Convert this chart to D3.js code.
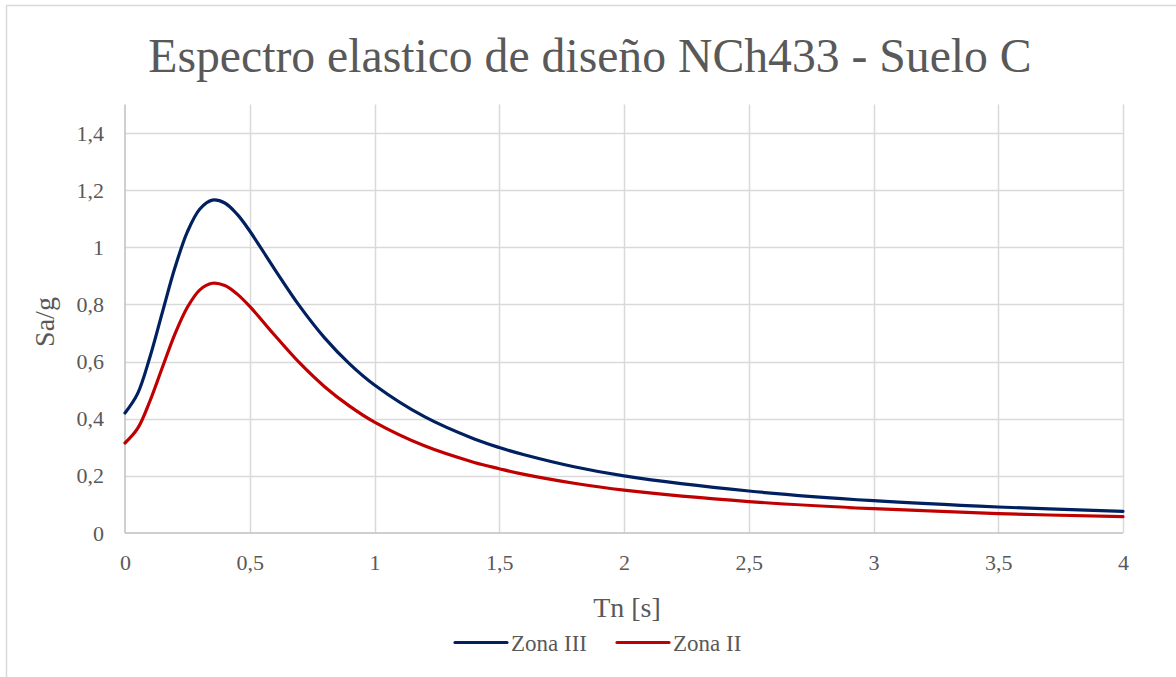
<!DOCTYPE html>
<html><head><meta charset="utf-8">
<script src="https://cdn.jsdelivr.net/npm/d3@7"></script>
<style>body{margin:0;background:#fff}svg{display:block}</style>
</head><body>
<svg id="c" width="1176" height="677" font-family="Liberation Serif"></svg>
<script>
const periods = [0,0.05,0.1,0.15,0.2,0.25,0.3,0.35,0.4,0.45,0.5,0.6,0.7,0.8,0.9,1.0,1.2,1.4,1.5,1.6,1.8,2.0,2.5,3.0,3.5,4.0];
const zonaIII = [0.420,0.487,0.616,0.773,0.928,1.054,1.134,1.165,1.155,1.115,1.057,0.923,0.794,0.683,0.592,0.518,0.407,0.329,0.299,0.274,0.232,0.200,0.147,0.113,0.091,0.076];
const zonaII  = [0.315,0.365,0.462,0.580,0.696,0.790,0.851,0.874,0.866,0.836,0.793,0.692,0.595,0.512,0.444,0.388,0.305,0.247,0.225,0.205,0.174,0.150,0.110,0.085,0.068,0.057];
const xTicks = [0,0.5,1,1.5,2,2.5,3,3.5,4];
const yTicks = [0,0.2,0.4,0.6,0.8,1,1.2,1.4];
const seriesNames = ["Zona III","Zona II"];
const seriesColors = ["#002060","#C00000"];
const title = "Espectro elastico de diseño NCh433 - Suelo C";

const FONT = "Liberation Serif";
const TXT = "#595959";
const svg = d3.select("#c");
const fmt = v => String(v).replace(".", ",");
svg.append("rect").attr("x",6.5).attr("y",5.5).attr("width",1200).attr("height",700)
  .attr("fill","#fff").attr("stroke","#d9d9d9").attr("stroke-width",1.5);

const x = d3.scaleLinear().domain([0,4]).range([125,1123]);
const y = d3.scaleLinear().domain([0,1.5]).range([533,104.4]);

svg.append("g").selectAll("line").data(yTicks.slice(1)).join("line")
  .attr("x1",x(0)).attr("x2",x(4)).attr("y1",d=>Math.round(y(d))+0.5).attr("y2",d=>Math.round(y(d))+0.5)
  .attr("stroke","#d9d9d9").attr("stroke-width",1.5);
svg.append("g").selectAll("line").data(xTicks.slice(1)).join("line")
  .attr("x1",d=>Math.round(x(d))+0.5).attr("x2",d=>Math.round(x(d))+0.5).attr("y1",y(0)).attr("y2",y(1.5))
  .attr("stroke","#d9d9d9").attr("stroke-width",1.5);
svg.append("line").attr("x1",x(0)).attr("x2",x(4)).attr("y1",y(0)).attr("y2",y(0)).attr("stroke","#bfbfbf").attr("stroke-width",1.5);
svg.append("line").attr("x1",x(0)).attr("x2",x(0)).attr("y1",y(0)).attr("y2",y(1.5)).attr("stroke","#bfbfbf").attr("stroke-width",1.5);

const xAxis = svg.append("g").attr("transform",`translate(0,${y(0)})`)
  .call(d3.axisBottom(x).tickValues(xTicks).tickFormat(fmt).tickSize(0).tickPadding(21));
const yAxis = svg.append("g").attr("transform",`translate(${x(0)},0)`)
  .call(d3.axisLeft(y).tickValues(yTicks).tickFormat(fmt).tickSize(0).tickPadding(21));
[xAxis,yAxis].forEach(a=>{a.select(".domain").remove();
  a.attr("font-family",FONT).attr("font-size",22);
  a.selectAll("text").attr("font-family",FONT).attr("font-size",22).attr("fill",TXT);});

const line = d3.line().x((d,i)=>x(periods[i])).y(d=>y(d)).curve(d3.curveCatmullRom.alpha(0.5));
[zonaIII,zonaII].forEach((s,k)=>{
  svg.append("path").attr("d",line(s)).attr("fill","none").attr("stroke",seriesColors[k])
    .attr("stroke-width",3.2).attr("stroke-linecap","round");
});

function txt(){ return svg.append("text").attr("font-family",FONT).attr("fill",TXT); }
const t = txt().attr("x",590).attr("y",72).attr("text-anchor","middle").attr("font-size",48).text(title);
const w = t.node().getComputedTextLength();
t.attr("font-size",(48*884/w).toFixed(1));
txt().attr("x",x(2)+3).attr("y",617).attr("text-anchor","middle").attr("font-size",28).text("Tn [s]");
txt().attr("transform","translate(54,322) rotate(-90)").attr("text-anchor","middle").attr("font-size",28).text("Sa/g");

const leg = [{x0:455,tx:511},{x0:617,tx:673}];
leg.forEach((l,k)=>{
  svg.append("line").attr("x1",l.x0).attr("x2",l.x0+52).attr("y1",642.5).attr("y2",642.5)
    .attr("stroke",seriesColors[k]).attr("stroke-width",3.2).attr("stroke-linecap","round");
  txt().attr("x",l.tx).attr("y",651).attr("font-size",23).text(seriesNames[k]);
});
</script>
</body></html>
